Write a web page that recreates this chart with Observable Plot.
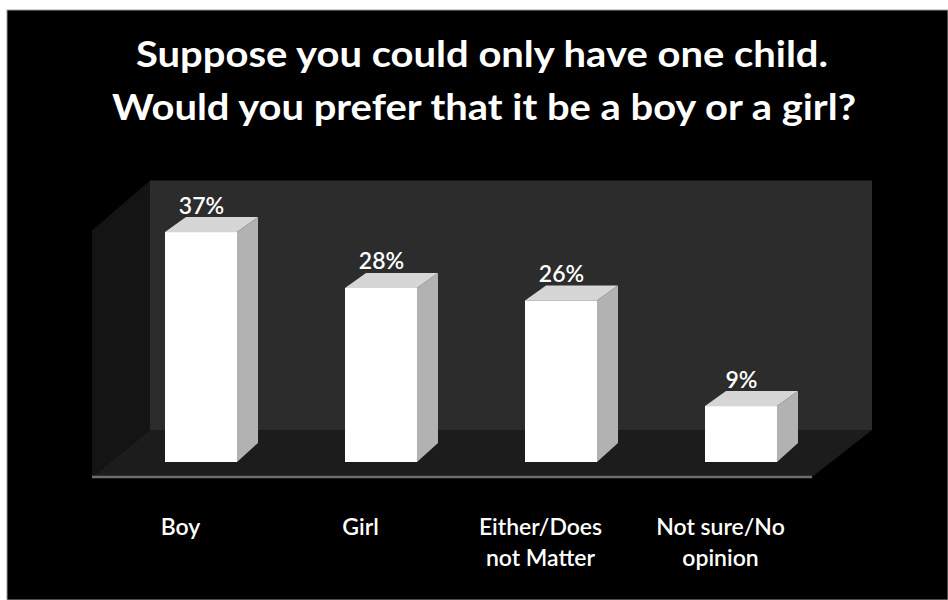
<!DOCTYPE html>
<html><head><meta charset="utf-8">
<script src="https://cdn.jsdelivr.net/npm/d3@7"></script>
<script src="https://cdn.jsdelivr.net/npm/@observablehq/plot@0.6"></script>
<style>
body{margin:0;background:#fff;}
#chart{position:relative;width:948px;height:600px;}
#chart svg{display:block;}
</style>
</head><body><div id="chart"></div>
<script>
const categories = ["Boy", "Girl", "Either/Does not Matter", "Not sure/No opinion"];
const tickLabels = ["Boy", "Girl", "Either/Does\nnot Matter", "Not sure/No\nopinion"];
const values = [37, 28, 26, 9];
const titleLines = ["Suppose you could only have one child.", "Would you prefer that it be a boy or a girl?"];

const data = categories.map((c, i) => ({category: c, label: tickLabels[i], value: values[i]}));

const W = 948, H = 600;
const FONT = "Lato, 'Open Sans', sans-serif";

const plot = Plot.plot({
  width: W, height: H,
  marginLeft: 110, marginRight: W - 831, marginTop: 213.4, marginBottom: 138,
  x: {type: "band", domain: categories, paddingInner: 0.6, paddingOuter: 0.3, axis: null},
  y: {domain: [0, 40], axis: null},
  style: {background: "transparent", fontFamily: FONT},
  marks: [
    Plot.barY(data, {x: "category", y: "value", fill: "#ffffff"}),
    Plot.text(data, {x: "category", y: "value", text: d => d.value + "%", dy: -19, lineAnchor: "bottom",
      fill: "#ffffff", fontSize: 23, fontWeight: 600, fontFamily: FONT}),
    Plot.text(data, {x: "category", y: 0, text: "label", dx: -21, dy: 51, lineAnchor: "top", lineHeight: 1.33,
      fill: "#ffffff", fontSize: 23, fontWeight: 600, fontFamily: FONT})
  ]
});

const xs = plot.scale("x"), ys = plot.scale("y");
const xf = xs.apply ? (v => xs.apply(v)) :
  d3.scaleBand(xs.domain, xs.range).paddingInner(xs.paddingInner).paddingOuter(xs.paddingOuter);
const yf = ys.apply ? (v => ys.apply(v)) : d3.scaleLinear(ys.domain, ys.range);
const bw = xs.bandwidth;
const [r0, r1] = xs.range;
const y0 = yf(0);

const svg = d3.select(plot);
// background + 3D walls, inserted beneath the marks
const deco = svg.insert("g", "style + *");
deco.append("rect").attr("x", 0).attr("y", 0).attr("width", W).attr("height", H).attr("fill", "#ffffff");
deco.append("rect").attr("x", 7).attr("y", 10).attr("width", W - 7).attr("height", H - 10)
  .attr("fill", "#000000").attr("stroke", "#9a9a9a").attr("stroke-width", 1);
const bx0 = r0 + 40, bx1 = r1 + 41, byTop = yf(45.3), byBot = y0 - 32;
const fx0 = r0 - 18, fx1 = r1 - 19, fy = y0 + 15;
deco.append("rect").attr("x", bx0).attr("y", byTop).attr("width", bx1 - bx0).attr("height", byBot - byTop)
  .attr("fill", "#2c2c2c");
deco.append("polygon").attr("points", [[bx0, byTop], [bx0, byBot], [fx0, fy], [fx0, byTop + 50]].join(" "))
  .attr("fill", "#141414");
deco.append("polygon").attr("points", [[bx0, byBot], [bx1, byBot], [fx1, fy], [fx0, fy]].join(" "))
  .attr("fill", "#1c1c1c");
deco.append("line").attr("x1", fx0).attr("x2", fx1).attr("y1", fy).attr("y2", fy)
  .attr("stroke", "#6e6e6e").attr("stroke-width", 2.5);

// 3D faces of the bars
const faces = svg.insert("g", "g[aria-label='text']");
const dX = 21, dY = -15;
data.forEach(d => {
  const x0 = xf(d.category), x1 = x0 + bw, yv = yf(d.value);
  faces.append("polygon").attr("points", [[x0, yv], [x0 + dX, yv + dY], [x1 + dX, yv + dY], [x1, yv]].join(" "))
    .attr("fill", "#d6d6d6");
  faces.append("polygon").attr("points", [[x1, yv], [x1 + dX, yv + dY], [x1 + dX, y0 - 19], [x1, y0]].join(" "))
    .attr("fill", "#b2b2b2");
});

// title
const title = svg.append("g").attr("font-family", FONT).attr("font-weight", "bold").attr("fill", "#ffffff")
  .attr("text-anchor", "middle").attr("font-size", 36);
const tl = [{y: 67, cx: 482, w: 692}, {y: 120, cx: 484, w: 744}];
titleLines.forEach((t, i) => {
  title.append("text").attr("x", tl[i].cx).attr("y", tl[i].y).attr("textLength", tl[i].w)
    .attr("lengthAdjust", "spacingAndGlyphs").text(t);
});

document.getElementById("chart").appendChild(plot);
</script>
</body></html>
